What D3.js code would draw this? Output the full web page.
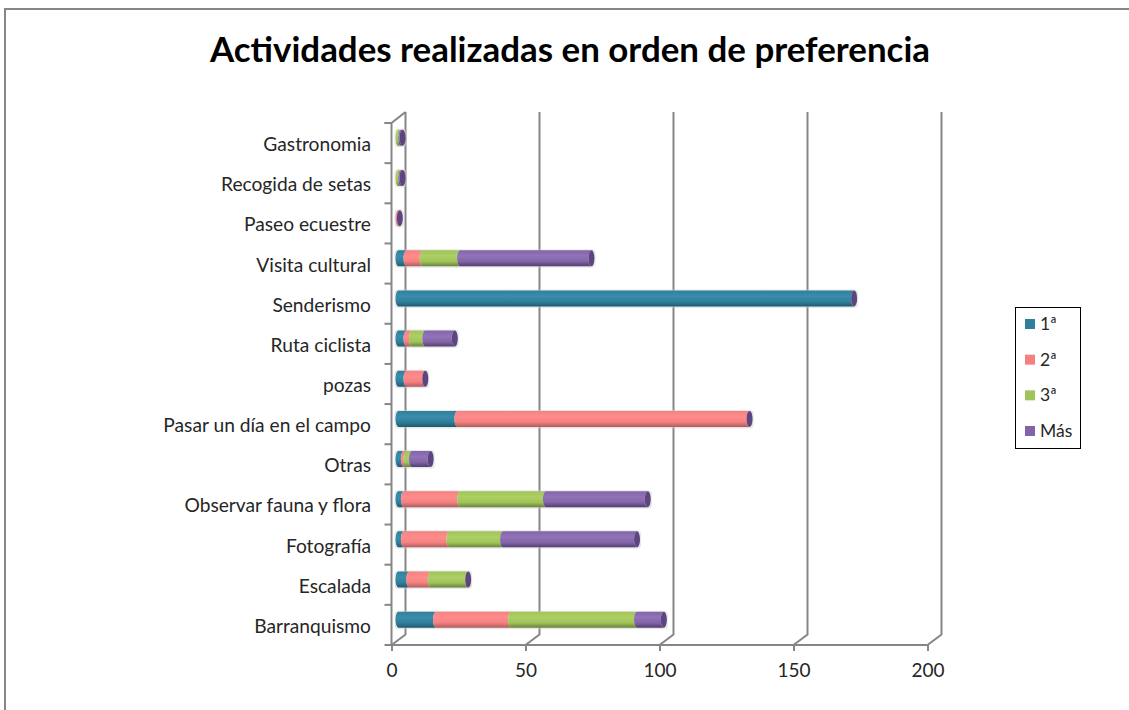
<!DOCTYPE html>
<html>
<head>
<meta charset="utf-8">
<script src="https://cdn.jsdelivr.net/npm/d3@7"></script>
<style>
  html, body { margin: 0; padding: 0; background: #fff; }
  svg { display: block; }
  text { font-family: Lato, "Open Sans", sans-serif; fill: #262626; }
</style>
</head>
<body>
<div id="canvas"></div>
<script>
const width = 1129;
const height = 710;

// bottom to top, same order as the chart
const categories = ["Barranquismo", "Escalada", "Fotografía", "Observar fauna y flora", "Otras",
    "Pasar un día en el campo", "pozas", "Ruta ciclista", "Senderismo", "Visita cultural",
    "Paseo ecuestre", "Recogida de setas", "Gastronomia"];
const seriesNames = ["1ª", "2ª", "3ª", "Más"];
const primera = [14, 4, 2, 2, 2, 22, 3, 3, 170, 3, 0, 0, 0];
const segunda = [28, 8, 17, 21, 1, 109, 7, 2, 0, 6, 0.5, 0, 0];
const tercera = [47, 14, 20, 32, 2, 0, 0, 5, 0, 14, 0, 1, 1];
const mas = [10, 0, 50, 38, 7, 0, 0, 11, 0, 49, 0, 0.5, 0.5];
const xTicks = [0, 50, 100, 150, 200];

const colors = {
    "1ª": ["#2f7f9b", "#3a8dab", "#205a70"],
    "2ª": ["#f58080", "#ff8c8c", "#ad5d5d"],
    "3ª": ["#a0c45a", "#adcf64", "#68823a"],
    "Más": ["#8265a8", "#9272b8", "#513d6d"]
};

const rows = categories.map((c, i) => ({
    name: c, "1ª": primera[i], "2ª": segunda[i], "3ª": tercera[i], "Más": mas[i]
}));

const svg = d3.select("#canvas")
    .append("svg")
    .attr("width", width)
    .attr("height", height);

// gradients for the cylinders
const defs = svg.append("defs");
seriesNames.forEach((s, i) => {
    const g = defs.append("linearGradient")
        .attr("id", "cyl" + i)
        .attr("x1", 0).attr("x2", 0).attr("y1", 0).attr("y2", 1);
    g.append("stop").attr("offset", "0%").attr("stop-color", colors[s][0]);
    g.append("stop").attr("offset", "35%").attr("stop-color", colors[s][1]);
    g.append("stop").attr("offset", "70%").attr("stop-color", colors[s][0]);
    g.append("stop").attr("offset", "100%").attr("stop-color", colors[s][2]);
});

// outer border, only top and left show in the picture
svg.append("path")
    .attr("d", `M5,${height}V9H${width}`)
    .attr("fill", "none")
    .attr("stroke", "#868686")
    .attr("stroke-width", 2);

svg.append("text")
    .attr("x", 570)
    .attr("y", 62)
    .attr("text-anchor", "middle")
    .style("font-size", "34.9px")
    .style("font-weight", 700)
    .style("fill", "#000")
    .text("Actividades realizadas en orden de preferencia");

const xScale = d3.scaleLinear().domain([0, 200]).range([391.5, 927.5]);
const yScale = d3.scaleBand().domain(categories).range([645, 123]);

// depth of the 3d box
const depthX = 14;
const depthY = 10.5;
const wallColor = "#868686";

const grid = svg.append("g")
    .attr("fill", "none")
    .attr("stroke", wallColor)
    .attr("stroke-width", 2);

grid.selectAll("path.wall")
    .data(xTicks)
    .join("path")
    .attr("class", "wall")
    .attr("d", d => `M${xScale(d)},645L${xScale(d) + depthX},${645 - depthY}V112`);

grid.append("path")
    .attr("d", `M${xScale(0) + depthX},112L${xScale(0)},123V645`);

// category ticks on the front edge, drawn by hand because they sit on the band edges
const bandEdges = categories.map(c => yScale(c)).concat([yScale.range()[1]]);
grid.selectAll("line.ytick")
    .data(bandEdges)
    .join("line")
    .attr("class", "ytick")
    .attr("x1", xScale(0) - 7)
    .attr("x2", xScale(0))
    .attr("y1", d => d)
    .attr("y2", d => d);

const xAxis = d3.axisBottom(xScale)
    .tickValues(xTicks)
    .tickSize(6)
    .tickPadding(13)
    .tickSizeOuter(0);

const xG = svg.append("g")
    .attr("transform", "translate(0,645)")
    .call(xAxis);
xG.select(".domain")
    .attr("d", `M${xScale(0) - 7},0H${xScale(200)}`)
    .attr("stroke", wallColor)
    .attr("stroke-width", 2);
xG.selectAll(".tick line").attr("stroke", wallColor).attr("stroke-width", 2);
xG.selectAll(".tick text").style("font-size", "19px").attr("fill", "#262626");

svg.selectAll("text.cat")
    .data(categories)
    .join("text")
    .attr("class", "cat")
    .attr("x", 371)
    .attr("y", d => yScale(d) + yScale.bandwidth() / 2 + 8)
    .attr("text-anchor", "end")
    .style("font-size", "19.2px")
    .text(d => d);

// bars sit half way into the depth of the box
const barH = 16;
const rx = 3;
const barX = v => xScale(v) + depthX / 2;
const barY = name => yScale(name) + yScale.bandwidth() / 2 - depthY / 2 - barH / 2;

const stacked = d3.stack().keys(seriesNames)(rows);

const shadow = svg.append("g");
shadow.selectAll("rect")
    .data(rows)
    .join("rect")
    .attr("x", d => barX(0) - rx - 1)
    .attr("y", d => barY(d.name) - 1)
    .attr("width", d => barX(d3.sum(seriesNames, s => d[s])) - barX(0) + rx * 2 + 2)
    .attr("height", barH + 2.5)
    .attr("rx", 4)
    .attr("fill", "#cfcfcf")
    .attr("opacity", 0.5);

stacked.forEach((layer, i) => {
    svg.append("g")
        .selectAll("path")
        .data(layer.filter(d => d[1] > d[0]))
        .join("path")
        .attr("fill", `url(#cyl${i})`)
        .attr("d", d => {
            const x0 = barX(d[0]);
            const x1 = barX(d[1]);
            const y0 = barY(d.data.name);
            const y1 = y0 + barH;
            return `M${x0},${y0}H${x1}A${rx},${barH / 2} 0 0 0 ${x1},${y1}H${x0}A${rx},${barH / 2} 0 0 1 ${x0},${y0}Z`;
        });
});

// purple end cap on every bar
svg.append("g")
    .selectAll("ellipse")
    .data(rows)
    .join("ellipse")
    .attr("cx", d => barX(d3.sum(seriesNames, s => d[s])))
    .attr("cy", d => barY(d.name) + barH / 2)
    .attr("rx", rx)
    .attr("ry", barH / 2)
    .attr("fill", "#5d4580");

// legend
svg.append("rect")
    .attr("x", 1015.5)
    .attr("y", 307.5)
    .attr("width", 65)
    .attr("height", 141)
    .attr("fill", "#fff")
    .attr("stroke", "#000")
    .attr("stroke-width", 1);

const legendY = d3.scalePoint().domain(seriesNames).range([324, 431]);

svg.selectAll("rect.swatch")
    .data(seriesNames)
    .join("rect")
    .attr("class", "swatch")
    .attr("x", 1025)
    .attr("y", d => legendY(d) - 5)
    .attr("width", 10)
    .attr("height", 10)
    .attr("fill", d => colors[d][0]);

svg.selectAll("text.leg")
    .data(seriesNames)
    .join("text")
    .attr("class", "leg")
    .attr("x", 1040)
    .attr("y", d => legendY(d) + 6)
    .style("font-size", "17.5px")
    .text(d => d);
</script>
</body>
</html>
